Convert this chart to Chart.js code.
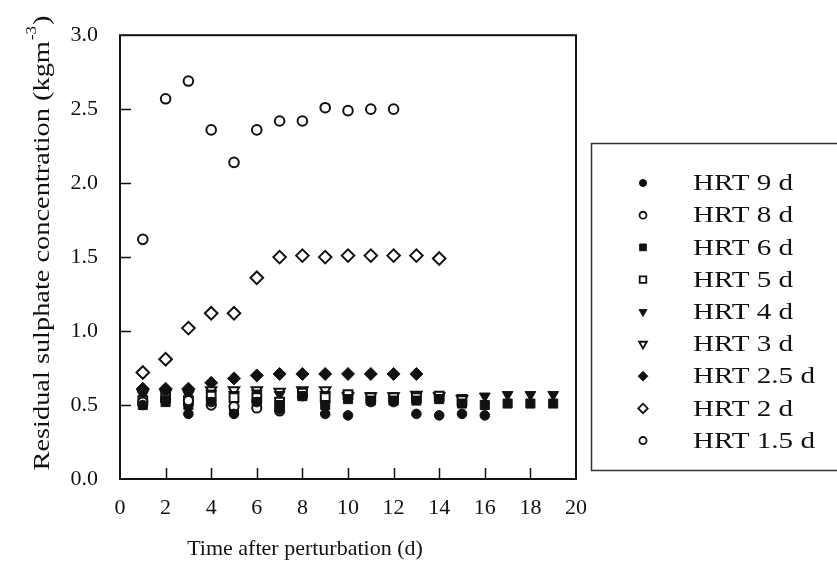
<!DOCTYPE html>
<html>
<head>
<meta charset="utf-8">
<script src="https://cdn.jsdelivr.net/npm/chart.js@4/dist/chart.umd.min.js"></script>
<style>
    body { margin: 0; background: #fff; }
    #wrap { width: 837px; height: 581px; position: relative; }
</style>
</head>
<body>
<div id="wrap"><canvas id="sulphateChart"></canvas></div>
<script>
// Time after perturbation (d)
const days = [1, 2, 3, 4, 5, 6, 7, 8, 9, 10, 11, 12, 13, 14, 15, 16, 17, 18, 19];

// Residual sulphate (kg m-3), one array per HRT run, starting at day 1
const hrt9 = [0.50, 0.53, 0.44, 0.52, 0.44, 0.52, 0.47, 0.56, 0.44, 0.43, 0.52, 0.52, 0.44, 0.43, 0.44, 0.43];
const hrt8 = [0.52, 0.54, 0.53, 0.50, 0.49, 0.48, 0.46];
const hrt6 = [0.50, 0.52, 0.50, 0.52, 0.47, 0.52, 0.50, 0.56, 0.50, 0.54, 0.53, 0.53, 0.53, 0.54, 0.51, 0.50, 0.51, 0.51, 0.51];
const hrt5 = [0.53, 0.55, 0.53, 0.56, 0.55, 0.55, 0.52, 0.58, 0.55, 0.57, 0.55, 0.55, 0.55, 0.56, 0.53];
const hrt4 = [0.57, 0.58, 0.57, 0.58, 0.57, 0.58, 0.57, 0.59, 0.57, 0.57, 0.56, 0.56, 0.56, 0.56, 0.55, 0.56, 0.57, 0.57, 0.57];
const hrt3 = [0.58, 0.58, 0.58, 0.60, 0.60, 0.60, 0.59, 0.60, 0.60, 0.56, 0.56, 0.56, 0.57, 0.56, 0.54];
const hrt25 = [0.61, 0.61, 0.61, 0.65, 0.68, 0.70, 0.71, 0.71, 0.71, 0.71, 0.71, 0.71, 0.71];
const hrt2 = [0.72, 0.81, 1.02, 1.12, 1.12, 1.36, 1.50, 1.51, 1.50, 1.51, 1.51, 1.51, 1.51, 1.49];
const hrt15 = [1.62, 2.57, 2.69, 2.36, 2.14, 2.36, 2.42, 2.42, 2.51, 2.49, 2.50, 2.50];

const xTicks = [0, 2, 4, 6, 8, 10, 12, 14, 16, 18, 20];
const yTicks = [0, 0.5, 1.0, 1.5, 2.0, 2.5, 3.0];

const FONT = '"Liberation Serif", "Times New Roman", serif';
const INK = '#111';

function series(label, values, style, filled, rotation, radius) {
    return {
        label: label,
        data: values.map((v, i) => ({ x: days[i], y: v })),
        pointStyle: style,
        rotation: rotation,
        pointRadius: radius,
        pointHoverRadius: radius,
        pointBorderWidth: filled ? 1 : 2,
        pointBackgroundColor: filled ? INK : '#fff',
        pointBorderColor: INK,
        showLine: false
    };
}

const datasets = [
    series('HRT 9 d', hrt9, 'circle', true, 0, 4.8),
    series('HRT 8 d', hrt8, 'circle', false, 0, 4.6),
    series('HRT 6 d', hrt6, 'rect', true, 0, 6.4),
    series('HRT 5 d', hrt5, 'rect', false, 0, 6.2),
    series('HRT 4 d', hrt4, 'triangle', true, 180, 6.2),
    series('HRT 3 d', hrt3, 'triangle', false, 180, 6),
    series('HRT 2.5 d', hrt25, 'rectRot', true, 0, 6.5),
    series('HRT 2 d', hrt2, 'rectRot', false, 0, 6.3),
    series('HRT 1.5 d', hrt15, 'circle', false, 0, 4.8)
];

// frame, inward ticks, axis titles and boxed legend
const decorations = {
    id: 'decorations',
    afterDraw(chart) {
        const ctx = chart.ctx;
        const a = chart.chartArea;
        const xs = chart.scales.x, ys = chart.scales.y;
        ctx.save();
        ctx.strokeStyle = INK;
        ctx.lineWidth = 2;
        ctx.strokeRect(a.left, a.top, a.right - a.left, a.bottom - a.top);

        ctx.lineWidth = 1.5;
        ctx.beginPath();
        xTicks.slice(1, -1).forEach(v => {
            const px = Math.round(xs.getPixelForValue(v)) + 0.5;
            ctx.moveTo(px, a.bottom);
            ctx.lineTo(px, a.bottom - 11);
        });
        yTicks.slice(1, -1).forEach(v => {
            const py = Math.round(ys.getPixelForValue(v)) + 0.5;
            ctx.moveTo(a.left, py);
            ctx.lineTo(a.left + 11, py);
        });
        ctx.stroke();

        // x title
        ctx.fillStyle = INK;
        ctx.font = '22px ' + FONT;
        ctx.textAlign = 'center';
        ctx.textBaseline = 'alphabetic';
        ctx.fillText('Time after perturbation (d)', 305, 555);

        // y title (rotated, with superscript)
        const main = 'Residual sulphate concentration (kgm';
        ctx.save();
        ctx.translate(49, 243);
        ctx.rotate(-Math.PI / 2);
        ctx.font = '24px ' + FONT;
        const w1 = ctx.measureText(main).width;
        ctx.font = '14px ' + FONT;
        const w2 = ctx.measureText('-3').width;
        ctx.font = '24px ' + FONT;
        const w3 = ctx.measureText(')').width;
        const total = w1 + w2 + w3 + 2;
        ctx.scale(455 / total, 1);
        ctx.textAlign = 'left';
        const x0 = -total / 2;
        ctx.fillText(main, x0, 0);
        ctx.font = '14px ' + FONT;
        ctx.fillText('-3', x0 + w1 + 1, -13);
        ctx.font = '24px ' + FONT;
        ctx.fillText(')', x0 + w1 + w2 + 2, 0);
        ctx.restore();

        // legend box
        ctx.lineWidth = 1.5;
        ctx.strokeStyle = '#333';
        ctx.strokeRect(591.5, 143.5, 260, 327);
        ctx.font = '24px ' + FONT;
        const kx = 122 / ctx.measureText('HRT 2.5 d').width;
        ctx.textAlign = 'left';
        ctx.textBaseline = 'middle';
        chart.data.datasets.forEach((ds, i) => {
            const y = 183 + i * 32.2;
            ctx.fillStyle = ds.pointBackgroundColor;
            ctx.strokeStyle = INK;
            ctx.lineWidth = ds.pointBorderWidth * 0.9;
            Chart.helpers.drawPoint(ctx, {
                pointStyle: ds.pointStyle,
                rotation: ds.rotation,
                radius: ds.pointRadius * 0.75,
                borderWidth: ds.pointBorderWidth
            }, 643, y);
            ctx.fillStyle = INK;
            ctx.save();
            ctx.translate(693, y + 1);
            ctx.scale(kx, 1);
            ctx.fillText(ds.label, 0, 0);
            ctx.restore();
        });
        ctx.restore();
    }
};

const tickFont = { family: FONT, size: 22 };

new Chart(document.getElementById('sulphateChart'), {
    type: 'scatter',
    data: { datasets: datasets },
    options: {
        responsive: true,
        maintainAspectRatio: false,
        animation: false,
        layout: { padding: { top: 21, right: 261, left: 0, bottom: 0 } },
        plugins: {
            legend: { display: false },
            tooltip: { enabled: false }
        },
        scales: {
            x: {
                type: 'linear',
                min: 0,
                max: 20,
                afterBuildTicks: s => { s.ticks = xTicks.map(v => ({ value: v })); },
                ticks: { font: tickFont, color: INK, padding: 16, maxRotation: 0 },
                grid: { display: false, drawTicks: false },
                border: { display: false },
                afterFit: s => { s.height = 102; }
            },
            y: {
                min: 0,
                max: 3,
                afterBuildTicks: s => { s.ticks = yTicks.map(v => ({ value: v })); },
                ticks: { font: tickFont, color: INK, padding: 22, callback: v => v.toFixed(1) },
                grid: { display: false, drawTicks: false },
                border: { display: false },
                afterFit: s => { s.width = 120; }
            }
        }
    },
    plugins: [decorations]
});
</script>
</body>
</html>
